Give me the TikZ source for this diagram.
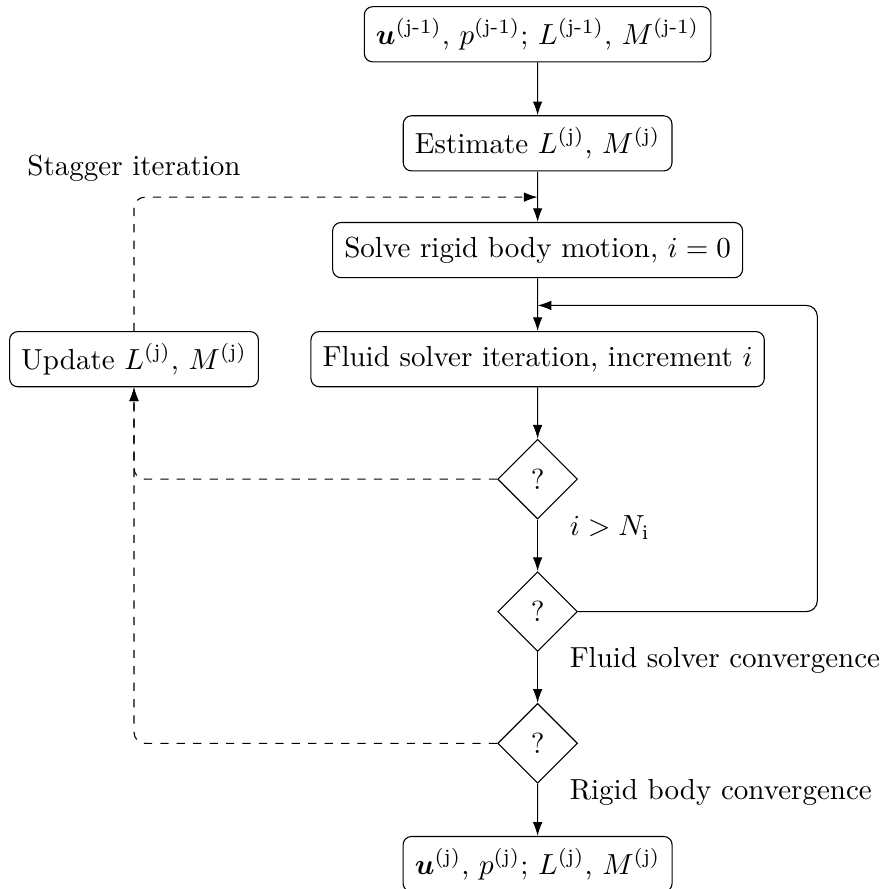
\documentclass[tikz,border=0pt]{standalone}
\usepackage{amsmath,amssymb}
\usepackage{tikz}
\usetikzlibrary{arrows.meta,positioning,calc,shapes.geometric}

\tikzset{
  every node/.append style={scale=1.06},
  procbox/.style={draw, rounded corners=3pt, inner xsep=4pt, minimum height=19pt},
  decide/.style={draw, diamond, minimum width=27.5pt, minimum height=27.5pt, inner sep=0pt},
  note/.style={inner sep=3.33pt},
  flow/.style={-{Latex[length=5pt,width=3.5pt]}},
  back/.style={flow, dashed, rounded corners=4pt}
}
\newcommand{\sj}[1]{^{\text{(#1)}}}

\begin{document}
\begin{tikzpicture}
    \useasboundingbox (0,0) rectangle (11.34,-11.41);
    % main column
    \node[procbox] (start) at (6.90,-0.44) {$\boldsymbol{u}\sj{j-1}$, $p\sj{j-1}$; $L\sj{j-1}$, $M\sj{j-1}$};
    \node[procbox] (est) at (6.90,-1.84) {Estimate $L\sj{j}$, $M\sj{j}$};
    \node[procbox] (solve) at (6.90,-3.21) {Solve rigid body motion, $i=0$};
    \node[procbox] (fluid) at (6.90,-4.61) {Fluid solver iteration, increment $i$};
    \node[procbox] (update) at (1.72,-4.61) {Update $L\sj{j}$, $M\sj{j}$};
    % checks
    \node[decide] (chkN) at (6.90,-6.15) {?};
    \node[decide] (chkF) at (6.90,-7.85) {?};
    \node[decide] (chkR) at (6.90,-9.54) {?};
    \node[procbox] (final) at (6.90,-11.09) {$\boldsymbol{u}\sj{j}$, $p\sj{j}$; $L\sj{j}$, $M\sj{j}$};
    % labels of the checks
    \node[note, anchor=west] (lblN) at ([xshift=8pt,yshift=-3pt]chkN.south) {$i > N_{\mathrm{i}}$};
    \node[note, anchor=west] (lblF) at ([xshift=8pt,yshift=-3pt]chkF.south) {Fluid solver convergence};
    \node[note, anchor=west] (lblR) at ([xshift=8pt,yshift=-3pt]chkR.south) {Rigid body convergence};
    % helper points
    \coordinate (join) at (6.90,-2.53);
    \coordinate (loopin) at (6.90,-3.92);
    \coordinate (loopr) at (10.49,-3.92);
    \coordinate (corner) at (update.north |- join);
    \node[note, above=2pt of corner] (stag) {Stagger iteration};
    % connectors
    \draw[flow] (start) -- (est);
    \draw[flow] (est) -- (solve);
    \draw[flow] (solve) -- (fluid);
    \draw[flow] (fluid) -- (chkN);
    \draw[flow] (chkN) -- (chkF);
    \draw[flow] (chkF) -- (chkR);
    \draw[flow] (chkR) -- (final);
    \draw[flow, rounded corners=4pt] (chkF.east) -| (loopr) -- (loopin);
    % stagger loop
    \draw[back] (update.north) |- (join);
    \draw[back] (chkN.west) -| (update.south);
    \draw[back] (chkR.west) -| (update.south);
\end{tikzpicture}
\end{document}
